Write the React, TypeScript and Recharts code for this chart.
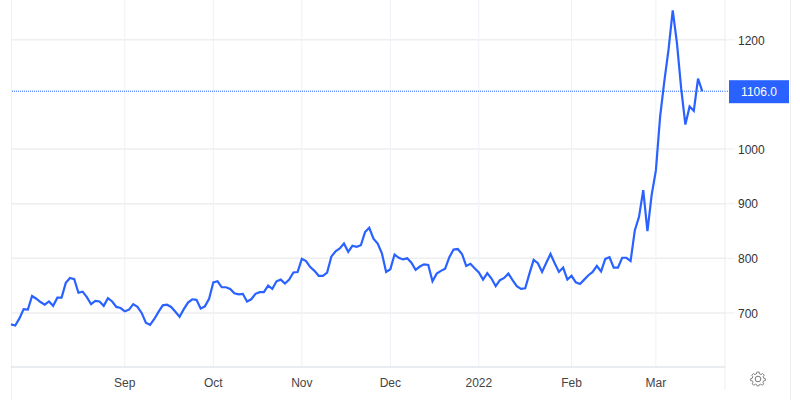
import { CartesianGrid, Line, LineChart, ReferenceLine, XAxis, YAxis } from 'recharts';

// one close per trading day
const prices = [
  679, 677, 690, 707, 706, 731, 726, 720, 715, 721, 713, 728, 728, 755, 764, 762, 737, 739, 729, 716,
  722, 721, 713, 727, 721, 711, 709, 703, 706, 716, 711, 700, 682, 678, 689, 702, 714, 715, 711, 702,
  693, 707, 719, 725, 724, 708, 712, 726, 756, 758, 747, 747, 744, 736, 734, 735, 721, 725, 735, 738,
  738, 750, 744, 758, 761, 754, 761, 774, 775, 799, 795, 784, 777, 768, 768, 774, 803, 813, 818, 827,
  812, 823, 821, 824, 848, 856, 836, 827, 809, 775, 780, 807, 801, 798, 800, 792, 779, 785, 789, 788,
  758, 772, 777, 781, 802, 816, 817, 808, 786, 790, 782, 774, 761, 773, 763, 749, 760, 764, 772, 760,
  749, 744, 745, 772, 797, 791, 775, 792, 808, 791, 775, 783, 761, 768, 756, 753, 761, 769, 775, 786,
  776, 799, 802, 783, 783, 801, 801, 795, 851, 876, 925, 850, 916, 961, 1059, 1124, 1182, 1254, 1194,
  1111, 1045, 1078, 1070, 1129, 1106,
];
const monthTicks = [27, 48, 69, 90, 111, 133, 153];
const monthLabels = ['Sep', 'Oct', 'Nov', 'Dec', '2022', 'Feb', 'Mar'];
const priceTicks = [700, 800, 900, 1000, 1200];
const lastPrice = 1106;

const FONT = '"Liberation Sans", Arial, sans-serif';
const BLUE = '#2962ff';

const rows = prices.map((price, day) => ({ day, price }));

function PriceBadge({ viewBox }: any) {
  const y = viewBox.y;
  return (
    <g>
      <line x1={725} x2={729} y1={y} y2={y} stroke={BLUE} strokeDasharray="1 1" />
      <rect x={729} y={y - 11} width={60} height={23} fill={BLUE} />
      <text x={759} y={y + 5} textAnchor="middle" fontFamily={FONT} fontSize={12} fill="#fff">
        1106.0
      </text>
    </g>
  );
}

export default function App() {
  return (
    <div style={{ position: 'absolute', left: 0, top: 0, width: 800, height: 400, background: '#fff' }}>
      <svg width={800} height={400} style={{ position: 'absolute', left: 0, top: 0 }}>
        <line x1={11.5} x2={11.5} y1={0} y2={400} stroke="#eef1f5" />
        <line x1={725} x2={725} y1={367} y2={390} stroke="#eeeeee" />
        <line x1={790.5} x2={790.5} y1={0} y2={400} stroke="#eeeeee" />
        <g transform="translate(758 379)" fill="none" stroke="#777" strokeWidth={1}>
          <circle r={2.8} />
          <path d="M-1.3 -7H1.3L1.7 -5L3.3 -4.3L5 -5.4L6.8 -3.6L5.6 -1.9L6.3 -0.3L8 0.2V2.2L6.1 2.6L5.4 4.2L6.4 5.9L4.6 7.3L3 6.1L1.4 6.8L1 8H-1L-1.4 6.8L-3 6.1L-4.6 7.3L-6.4 5.9L-5.4 4.2L-6.1 2.6L-8 2.2V0.2L-6.3 -0.3L-5.6 -1.9L-6.8 -3.6L-5 -5.4L-3.3 -4.3L-1.7 -5Z" transform="translate(0 -0.5) scale(0.92)" />
        </g>
      </svg>
      <div style={{ position: 'absolute', left: 0, top: 0 }}>
        <LineChart
          width={800}
          height={400}
          data={rows}
          margin={{ top: 0, right: 10, bottom: 0, left: 11 }}
        >
          <CartesianGrid vertical={false} stroke="#eeeeee" strokeWidth={1.5} horizontalValues={priceTicks} />
          {monthTicks.map((t) => (
            <ReferenceLine key={t} x={t} stroke="#edf2f7" />
          ))}
          <XAxis
            dataKey="day"
            type="number"
            domain={[0, 169.4]}
            ticks={monthTicks}
            tickFormatter={(d: number) => monthLabels[monthTicks.indexOf(d)]}
            height={33}
            tickLine={false}
            axisLine={{ stroke: '#d3dbe6' }}
            tick={{ fontFamily: FONT, fontSize: 12, fill: '#444', dy: 3 }}
            interval={0}
          />
          <YAxis
            orientation="right"
            width={65}
            domain={[601, 1273]}
            ticks={priceTicks}
            tickSize={10}
            tickLine={{ stroke: '#eeeeee' }}
            axisLine={{ stroke: '#eeeeee' }}
            tick={{ fontFamily: FONT, fontSize: 12, fill: '#333', dx: 1, dy: 0.5 }}
            interval={0}
          />
          <ReferenceLine y={lastPrice} stroke={BLUE} strokeDasharray="1 1" label={<PriceBadge />} />
          <Line
            dataKey="price"
            type="linear"
            stroke={BLUE}
            strokeWidth={2.2}
            dot={false}
            isAnimationActive={false}
          />
        </LineChart>
      </div>
    </div>
  );
}
